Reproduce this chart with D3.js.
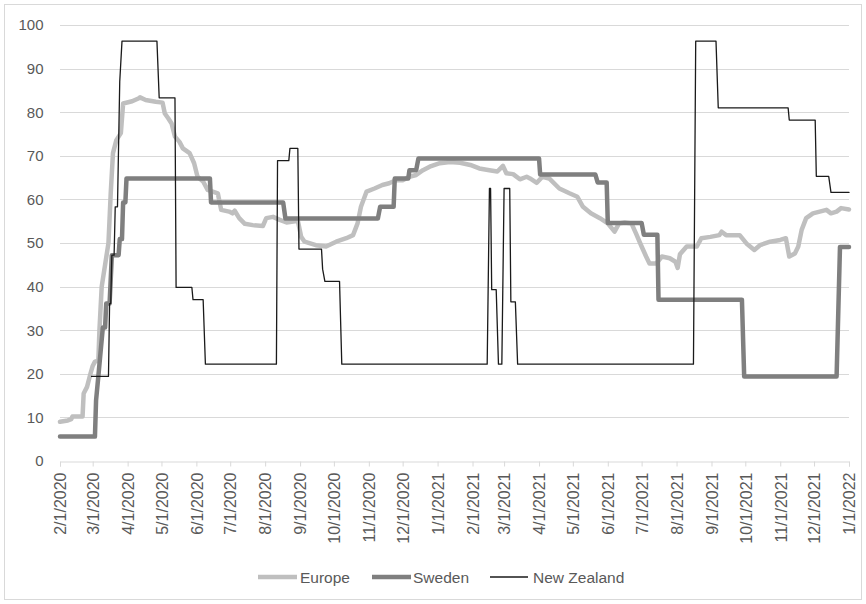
<!DOCTYPE html>
<html>
<head>
<meta charset="utf-8">
<script src="https://cdn.jsdelivr.net/npm/d3@7"></script>
<style>
  html, body { margin: 0; padding: 0; background: #fff; }
  svg { display: block; }
  text { font-family: "Liberation Sans", Arial, sans-serif; fill: #595959; }
</style>
</head>
<body>
<svg id="chart" width="866" height="604"></svg>
<script>
// ---------------- DATA ----------------
const seriesNames = ["Europe", "Sweden", "New Zealand"];
const yTicks = [0, 10, 20, 30, 40, 50, 60, 70, 80, 90, 100];
const xTickLabels = ["2/1/2020","3/1/2020","4/1/2020","5/1/2020","6/1/2020","7/1/2020","8/1/2020","9/1/2020","10/1/2020","11/1/2020","12/1/2020","1/1/2021","2/1/2021","3/1/2021","4/1/2021","5/1/2021","6/1/2021","7/1/2021","8/1/2021","9/1/2021","10/1/2021","11/1/2021","12/1/2021","1/1/2022"];

const europe = [
  ["2020-02-01",9.0],["2020-02-08",9.3],["2020-02-11",9.6],["2020-02-12",10.2],["2020-02-21",10.2],
  ["2020-02-22",15.5],["2020-02-25",17.0],["2020-02-28",20.0],["2020-03-01",21.8],["2020-03-03",22.8],
  ["2020-03-06",23.0],["2020-03-07",30.0],["2020-03-09",40.0],["2020-03-15",50.0],["2020-03-17",61.4],
  ["2020-03-19",70.6],["2020-03-22",73.6],["2020-03-26",75.2],["2020-03-28",82.0],["2020-04-05",82.5],
  ["2020-04-11",83.2],["2020-04-12",83.4],["2020-04-17",82.8],["2020-04-26",82.4],["2020-05-02",82.2],
  ["2020-05-04",79.7],["2020-05-07",78.6],["2020-05-10",77.4],["2020-05-13",74.4],["2020-05-17",73.2],
  ["2020-05-20",71.7],["2020-05-26",70.6],["2020-05-30",68.3],["2020-06-02",65.2],["2020-06-07",64.1],
  ["2020-06-11",62.2],["2020-06-20",61.4],["2020-06-23",57.6],["2020-06-30",57.2],["2020-07-03",56.8],
  ["2020-07-05",57.4],["2020-07-09",55.7],["2020-07-14",54.4],["2020-07-21",54.1],["2020-07-30",53.9],
  ["2020-08-02",55.7],["2020-08-08",56.0],["2020-08-14",55.3],["2020-08-20",54.7],["2020-08-26",54.9],
  ["2020-08-30",55.1],["2020-09-02",51.4],["2020-09-05",50.3],["2020-09-15",49.5],["2020-09-24",49.2],
  ["2020-10-03",50.3],["2020-10-12",51.1],["2020-10-18",51.8],["2020-10-22",54.5],["2020-10-25",58.3],
  ["2020-10-30",61.8],["2020-11-06",62.5],["2020-11-13",63.3],["2020-11-19",63.7],["2020-11-25",64.4],
  ["2020-12-01",64.4],["2020-12-07",65.2],["2020-12-13",65.6],["2020-12-19",66.7],["2020-12-25",67.5],
  ["2021-01-03",68.3],["2021-01-12",68.6],["2021-01-21",68.4],["2021-01-30",67.9],["2021-02-07",67.1],
  ["2021-02-16",66.7],["2021-02-23",66.4],["2021-02-28",67.7],["2021-03-03",66.0],["2021-03-09",65.8],
  ["2021-03-15",64.6],["2021-03-21",65.2],["2021-03-24",64.8],["2021-03-30",63.8],["2021-04-04",65.2],
  ["2021-04-10",64.8],["2021-04-19",62.5],["2021-04-28",61.4],["2021-05-05",60.6],["2021-05-10",58.3],
  ["2021-05-17",56.8],["2021-05-25",55.7],["2021-06-01",54.5],["2021-06-07",52.6],["2021-06-11",54.5],
  ["2021-06-16",54.7],["2021-06-22",54.5],["2021-06-26",52.2],["2021-07-01",49.2],["2021-07-05",46.9],
  ["2021-07-08",45.3],["2021-07-14",45.3],["2021-07-19",46.9],["2021-07-26",46.5],["2021-07-31",45.7],
  ["2021-08-02",44.3],["2021-08-04",47.4],["2021-08-10",49.2],["2021-08-19",49.2],["2021-08-23",51.1],
  ["2021-08-31",51.4],["2021-09-08",51.8],["2021-09-10",52.6],["2021-09-14",51.8],["2021-09-26",51.8],
  ["2021-10-02",49.9],["2021-10-09",48.4],["2021-10-14",49.5],["2021-10-23",50.3],["2021-11-01",50.7],
  ["2021-11-06",51.1],["2021-11-09",46.9],["2021-11-14",47.6],["2021-11-17",49.2],["2021-11-20",53.0],
  ["2021-11-24",55.7],["2021-11-30",56.8],["2021-12-06",57.2],["2021-12-12",57.6],["2021-12-16",56.8],
  ["2021-12-21",57.2],["2021-12-25",58.0],["2022-01-01",57.7]
];

const sweden = [
  ["2020-02-01",5.6],["2020-03-03",5.6],["2020-03-04",13.9],["2020-03-06",19.4],["2020-03-10",30.6],
  ["2020-03-12",30.6],["2020-03-13",36.1],["2020-03-16",36.1],["2020-03-18",47.2],["2020-03-24",47.2],
  ["2020-03-25",50.9],["2020-03-27",50.9],["2020-03-28",59.3],["2020-03-30",59.3],["2020-03-31",64.8],
  ["2020-06-13",64.8],["2020-06-14",59.3],["2020-08-17",59.3],["2020-08-19",55.6],["2020-11-09",55.6],
  ["2020-11-11",58.3],["2020-11-23",58.3],["2020-11-24",64.8],["2020-12-06",64.8],["2020-12-07",66.7],
  ["2020-12-13",66.7],["2020-12-15",69.4],["2021-04-01",69.4],["2021-04-02",65.7],["2021-05-21",65.7],
  ["2021-05-23",63.9],["2021-05-31",63.9],["2021-06-01",54.6],["2021-07-01",54.6],["2021-07-03",51.9],
  ["2021-07-15",51.9],["2021-07-16",37.0],["2021-09-28",37.0],["2021-09-30",19.4],["2021-12-21",19.4],
  ["2021-12-24",49.1],["2022-01-01",49.1]
];

const newZealand = [
  ["2020-02-29",19.4],["2020-03-15",19.4],["2020-03-16",36.1],["2020-03-17",36.1],["2020-03-18",47.2],
  ["2020-03-20",47.2],["2020-03-21",58.3],["2020-03-23",58.3],["2020-03-25",87.0],["2020-03-27",96.3],
  ["2020-04-27",96.3],["2020-04-29",83.3],["2020-05-13",83.3],["2020-05-14",39.8],["2020-05-28",39.8],
  ["2020-05-29",37.0],["2020-06-07",37.0],["2020-06-09",22.2],["2020-08-11",22.2],["2020-08-12",68.9],
  ["2020-08-22",68.9],["2020-08-23",71.7],["2020-08-30",71.7],["2020-08-31",48.6],["2020-09-20",48.6],
  ["2020-09-21",44.0],["2020-09-23",41.2],["2020-10-06",41.2],["2020-10-08",22.2],["2021-02-14",22.2],
  ["2021-02-16",62.5],["2021-02-17",62.5],["2021-02-18",39.3],["2021-02-22",39.3],["2021-02-24",22.2],
  ["2021-02-27",22.2],["2021-03-01",62.5],["2021-03-06",62.5],["2021-03-07",36.5],["2021-03-11",36.5],
  ["2021-03-13",22.2],["2021-08-16",22.2],["2021-08-18",96.3],["2021-09-05",96.3],["2021-09-07",81.0],
  ["2021-11-08",81.0],["2021-11-09",78.2],["2021-12-02",78.2],["2021-12-03",65.3],["2021-12-14",65.3],
  ["2021-12-16",61.6],["2022-01-01",61.6]
];

// ---------------- CHART ----------------
const svg = d3.select("#chart");
const W = 866, H = 604;
const plot = { left: 60, right: 849, top: 25, bottom: 461 };

const parse = d3.utcParse("%Y-%m-%d");
const parseTick = d3.utcParse("%m/%d/%Y");

const x = d3.scaleUtc()
  .domain([parseTick(xTickLabels[0]), parseTick(xTickLabels[xTickLabels.length - 1])])
  .range([plot.left, plot.right]);
const y = d3.scaleLinear().domain([0, 100]).range([plot.bottom, plot.top]);

// outer border
svg.append("rect")
  .attr("x", 4.5).attr("y", 4.5).attr("width", W - 9).attr("height", H - 9)
  .attr("fill", "#fff").attr("stroke", "#d9d9d9").attr("stroke-width", 1);

// gridlines
svg.append("g")
  .selectAll("line")
  .data(yTicks.filter(d => d !== 0))
  .join("line")
  .attr("x1", plot.left).attr("x2", plot.right)
  .attr("y1", d => Math.round(y(d)) + 0.5).attr("y2", d => Math.round(y(d)) + 0.5)
  .attr("stroke", "#d9d9d9").attr("stroke-width", 1);

// y labels
svg.append("g")
  .selectAll("text")
  .data(yTicks)
  .join("text")
  .attr("x", 43.5)
  .attr("y", d => y(d))
  .attr("dy", "0.36em")
  .attr("text-anchor", "end")
  .style("font-size", "15px")
  .text(d => d);

// x axis
const tickDates = xTickLabels.map(parseTick);
const xAxis = d3.axisBottom(x)
  .tickValues(tickDates)
  .tickSize(5)
  .tickFormat((d, i) => xTickLabels[i]);
const gx = svg.append("g")
  .attr("transform", `translate(0,${Math.round(plot.bottom) + 0.5})`)
  .call(xAxis);
gx.select(".domain").attr("stroke", "#d9d9d9").attr("stroke-width", 1);
gx.selectAll(".tick line").attr("stroke", "#d9d9d9");
gx.selectAll(".tick text")
  .attr("transform", "rotate(-90)")
  .attr("x", -11)
  .attr("y", 0)
  .attr("dy", "0.36em")
  .attr("text-anchor", "end")
  .attr("fill", "#595959")
  .style("font-size", "16px")
  .style("font-family", '"Liberation Sans", Arial, sans-serif');

// lines
const line = d3.line()
  .x(d => x(parse(d[0])))
  .y(d => y(d[1]));

const styles = [
  { data: europe, color: "#bfbfbf", width: 4.5 },
  { data: sweden, color: "#7f7f7f", width: 4.5 },
  { data: newZealand, color: "#1a1a1a", width: 1.3 }
];

svg.append("g")
  .selectAll("path")
  .data(styles)
  .join("path")
  .attr("d", d => line(d.data))
  .attr("fill", "none")
  .attr("stroke", d => d.color)
  .attr("stroke-width", d => d.width)
  .attr("stroke-linejoin", "round")
  .attr("stroke-linecap", "round");

// legend
const legendY = 577;
const legendItems = [
  { name: seriesNames[0], x0: 258, x1: 297, tx: 300 },
  { name: seriesNames[1], x0: 372, x1: 411, tx: 413 },
  { name: seriesNames[2], x0: 490, x1: 528, tx: 533 }
];
const lg = svg.append("g");
legendItems.forEach((it, i) => {
  lg.append("line")
    .attr("x1", it.x0).attr("x2", it.x1)
    .attr("y1", legendY).attr("y2", legendY)
    .attr("stroke", styles[i].color)
    .attr("stroke-width", styles[i].width);
  lg.append("text")
    .attr("x", it.tx).attr("y", legendY)
    .attr("dy", "0.36em")
    .style("font-size", "15.5px")
    .text(it.name);
});
</script>
</body>
</html>
